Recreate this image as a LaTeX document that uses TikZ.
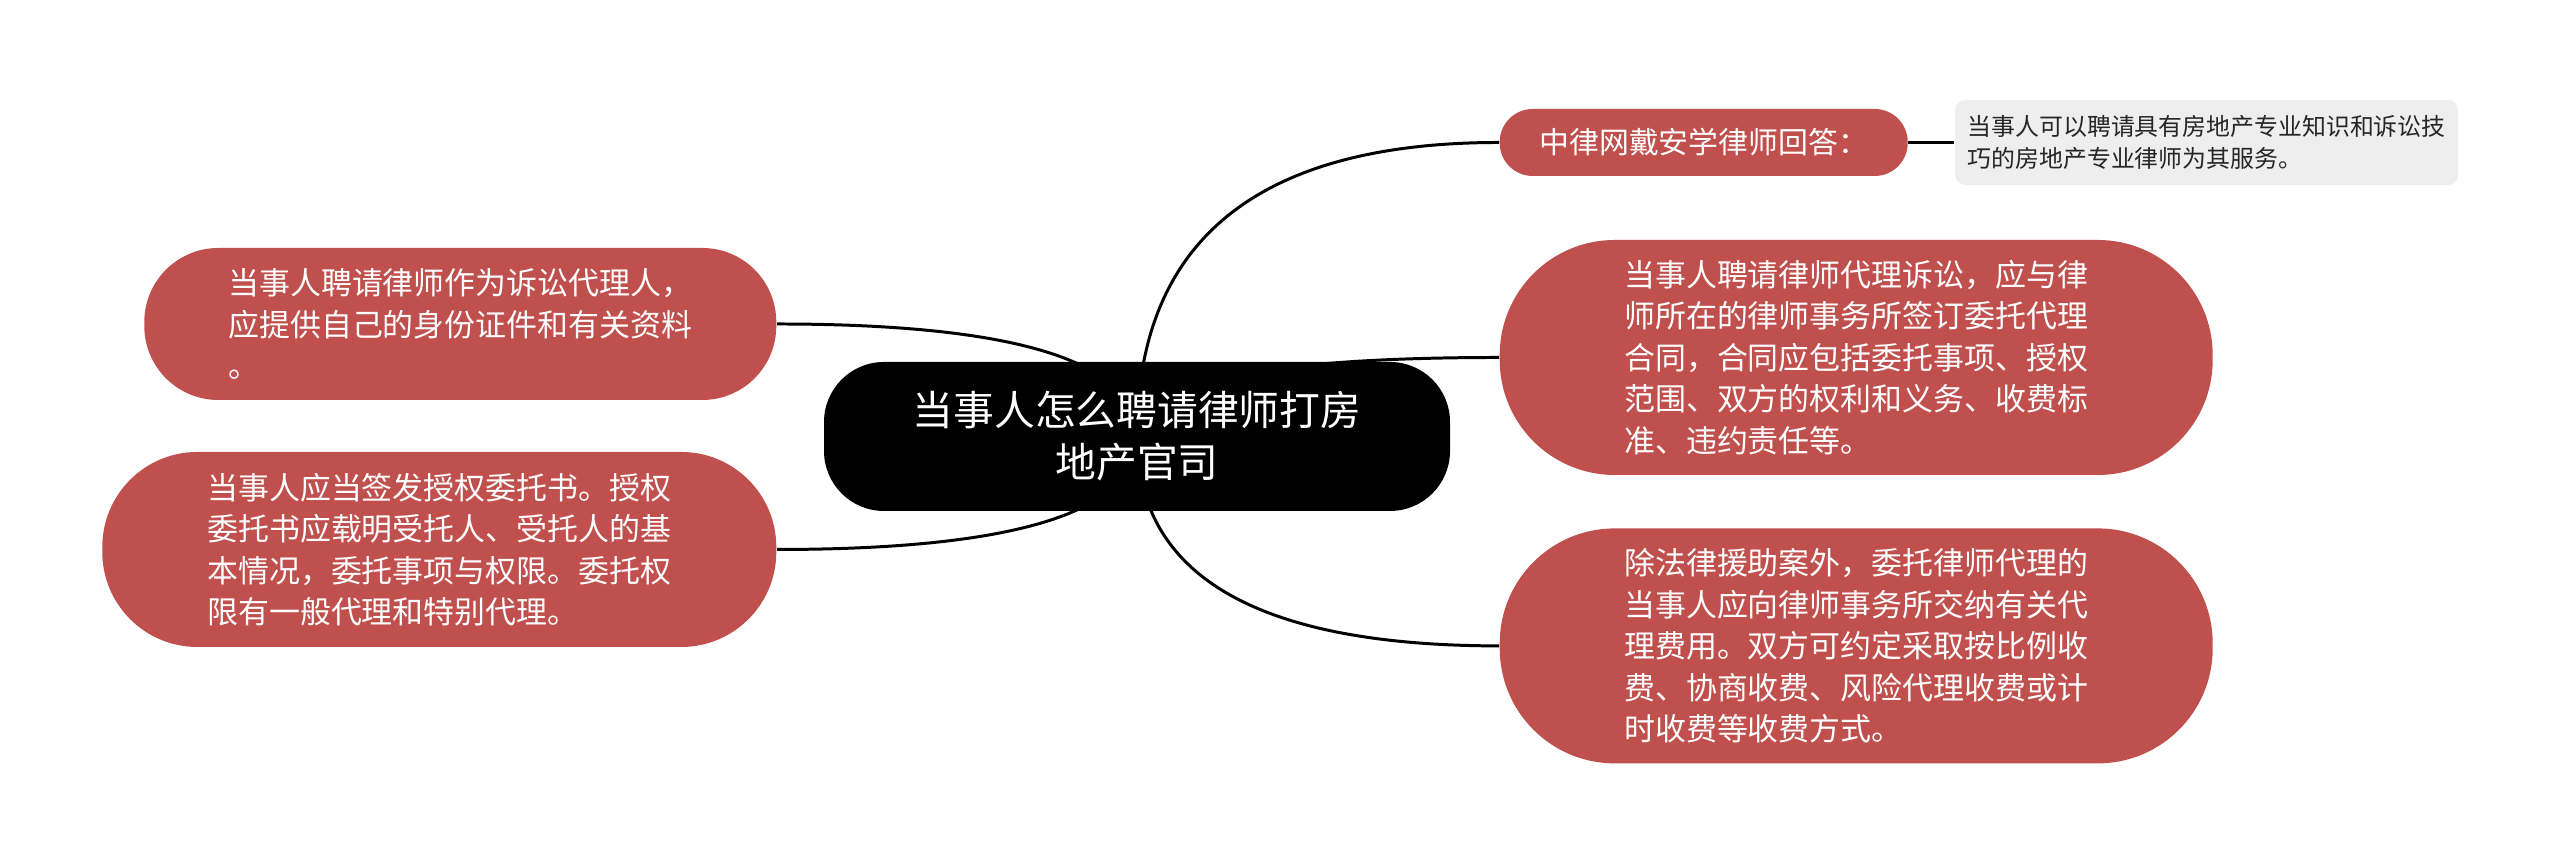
\documentclass[tikz,border=0pt]{standalone}
\usepackage{fontspec}
\newfontfamily\cjk{Noto Sans CJK SC}
\usepackage{tikz}
\usetikzlibrary{positioning, calc, backgrounds}
\definecolor{topicred}{RGB}{192, 80, 77}
\definecolor{notegrey}{RGB}{238, 238, 238}

\begin{document}
\begin{tikzpicture}[every node/.style={font=\cjk}, branch/.style={line width=0.85pt, black}, topic/.style={fill=topicred, text=white, align=left, font=\cjk\fontsize{8.8}{11.8}\selectfont}]
    \useasboundingbox (0,0) rectangle (25.6,8.67);

    % Central topic
    \node [fill=black, text=white, rounded corners=0.6cm, minimum width=6.26cm, minimum height=1.49cm, align=center, font=\cjk\fontsize{11.6}{14.8}\selectfont] (root) at (11.37,4.305) {当事人怎么聘请律师打房\\地产官司};

    % Right branches
    \node [topic, anchor=west, rounded corners=0.33cm, minimum width=4.08cm, minimum height=0.67cm, align=center, font=\cjk\fontsize{8.5}{10}\selectfont] (answer) at (14.99,7.245) {中律网戴安学律师回答：};
    \node [fill=notegrey, text=black!85, rounded corners=0.1cm, minimum width=5.03cm, minimum height=0.85cm, align=left, font=\cjk\fontsize{6.8}{9}\selectfont, right=0.46cm of answer] (note) {当事人可以聘请具有房地产专业知识和诉讼技\\巧的房地产专业律师为其服务。};
    \node [topic, anchor=west, rounded corners=1.15cm, minimum width=7.13cm, minimum height=2.35cm] (contract) at (14.99,5.095) {当事人聘请律师代理诉讼，应与律\\师所在的律师事务所签订委托代理\\合同，合同应包括委托事项、授权\\范围、双方的权利和义务、收费标\\准、违约责任等。};
    \node [topic, rounded corners=1.15cm, minimum width=7.13cm, minimum height=2.35cm, below=0.52cm of contract] (fees) {除法律援助案外，委托律师代理的\\当事人应向律师事务所交纳有关代\\理费用。双方可约定采取按比例收\\费、协商收费、风险代理收费或计\\时收费等收费方式。};

    % Left branches
    \node [topic, anchor=east, rounded corners=0.74cm, minimum width=6.32cm, minimum height=1.52cm] (papers) at (7.77,5.43) {当事人聘请律师作为诉讼代理人，\\应提供自己的身份证件和有关资料\\。};
    \node [topic, anchor=east, rounded corners=0.95cm, minimum width=6.74cm, minimum height=1.95cm] (warrant) at (7.77,3.175) {当事人应当签发授权委托书。授权\\委托书应载明受托人、受托人的基\\本情况，委托事项与权限。委托权\\限有一般代理和特别代理。};

    % Connectors
    \begin{scope}[on background layer]
        \draw [branch] (root.center) .. controls ($(root.center)!2/3!(root.center |- answer.west)$) and ($(answer.west)!2/3!(root.center |- answer.west)$) .. (answer.west);
        \draw [branch] (root.center) .. controls ($(root.center)!2/3!(root.center |- contract.west)$) and ($(contract.west)!2/3!(root.center |- contract.west)$) .. (contract.west);
        \draw [branch] (root.center) .. controls ($(root.center)!2/3!(root.center |- fees.west)$) and ($(fees.west)!2/3!(root.center |- fees.west)$) .. (fees.west);
        \draw [branch] (root.center) .. controls ($(root.center)!2/3!(root.center |- papers.east)$) and ($(papers.east)!2/3!(root.center |- papers.east)$) .. (papers.east);
        \draw [branch] (root.center) .. controls ($(root.center)!2/3!(root.center |- warrant.east)$) and ($(warrant.east)!2/3!(root.center |- warrant.east)$) .. (warrant.east);
        \draw [branch] (answer) -- (note);
    \end{scope}
\end{tikzpicture}
\end{document}
